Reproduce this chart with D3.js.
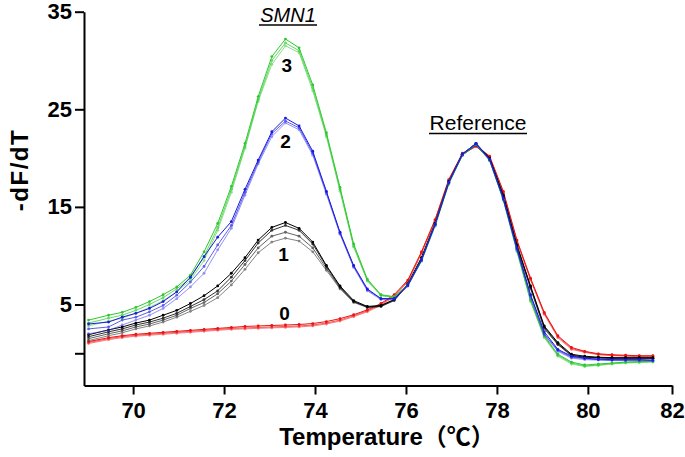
<!DOCTYPE html>
<html>
<head>
<meta charset="utf-8">
<script src="https://cdn.jsdelivr.net/npm/d3@7/dist/d3.min.js"></script>
<style>
  body { margin: 0; background: #fff; }
  svg { display: block; }
  text { font-family: "Liberation Sans", Arial, "Noto Sans CJK SC", sans-serif; }
</style>
</head>
<body>
<svg id="chart" width="685" height="457"></svg>
<script>
// temperature steps (°C) of the melt curve
const temps = [69.02, 69.46, 69.76, 70.06, 70.36, 70.66, 70.96, 71.26, 71.56, 71.86,
  72.16, 72.46, 72.75, 73.05, 73.35, 73.65, 73.95, 74.25, 74.55, 74.85,
  75.15, 75.45, 75.74, 76.04, 76.34, 76.64, 76.94, 77.24, 77.54, 77.84,
  78.14, 78.44, 78.74, 79.04, 79.34, 79.64, 79.93, 80.23, 80.53, 80.83,
  81.13, 81.43];

// SMN1 copy number 3 (green)
const green1 = [3.4, 3.9, 4.2, 4.7, 5.3, 6.0, 6.8, 8.0, 10.4, 13.3, 17.1, 21.5, 26.3, 30.4, 32.2, 31.3, 27.5, 22.6, 17.0, 11.2,
  7.6, 6.0, 5.8, 7.0, 9.6, 13.2, 17.5, 20.4, 21.5, 19.8, 15.8, 10.6, 5.5, 1.8, -0.1, -0.9, -1.2, -1.1, -1.0, -0.9, -0.85, -0.8];
const green2 = [3.1, 3.6, 3.9, 4.4, 5.0, 5.7, 6.6, 7.7, 9.9, 12.9, 16.8, 21.2, 26.0, 30.0, 31.8, 31.0, 27.2, 22.4, 16.8, 11.0,
  7.5, 5.95, 5.75, 7.0, 9.5, 13.1, 17.4, 20.3, 21.4, 19.8, 15.7, 10.5, 5.4, 1.7, -0.2, -1.0, -1.3, -1.2, -1.05, -0.95, -0.9, -0.85];
const green3 = [2.8, 3.3, 3.6, 4.1, 4.7, 5.4, 6.3, 7.5, 9.5, 12.6, 16.5, 21.0, 25.8, 29.6, 31.5, 30.8, 26.9, 22.2, 16.6, 10.9,
  7.4, 5.9, 5.7, 6.9, 9.4, 13.0, 17.3, 20.3, 21.4, 19.7, 15.7, 10.4, 5.3, 1.6, -0.3, -1.1, -1.35, -1.25, -1.1, -1.0, -0.95, -0.9];

// SMN1 copy number 2 (blue)
const blue1 = [3.0, 3.2, 3.7, 4.1, 4.6, 5.3, 6.3, 7.8, 9.9, 11.9, 13.5, 16.8, 19.8, 22.7, 24.1, 23.3, 20.7, 16.6, 12.4, 9.0,
  6.6, 5.6, 5.6, 7.0, 9.6, 13.2, 17.5, 20.4, 21.5, 19.9, 15.9, 10.8, 6.0, 2.2, 0.4, -0.3, -0.5, -0.6, -0.65, -0.65, -0.65, -0.7];
const blue2 = [2.5, 2.7, 3.4, 3.7, 4.25, 4.9, 5.95, 7.3, 8.9, 11.1, 13.1, 16.5, 19.6, 22.5, 23.8, 23.1, 20.5, 16.5, 12.3, 8.9,
  6.5, 5.6, 5.6, 6.9, 9.5, 13.2, 17.5, 20.4, 21.5, 19.8, 15.8, 10.7, 5.9, 2.0, 0.3, -0.4, -0.55, -0.65, -0.7, -0.7, -0.7, -0.75];
const blue3 = [2.0, 2.35, 2.9, 3.4, 3.9, 4.6, 5.6, 6.8, 8.2, 10.6, 12.8, 16.2, 19.4, 22.2, 23.6, 22.9, 20.3, 16.3, 12.2, 8.8,
  6.4, 5.5, 5.5, 6.9, 9.5, 13.1, 17.4, 20.3, 21.4, 19.8, 15.8, 10.6, 5.7, 1.9, 0.2, -0.5, -0.65, -0.7, -0.75, -0.75, -0.75, -0.8];

// SMN1 copy number 1 (black)
const black1 = [1.9, 2.4, 2.7, 3.1, 3.4, 3.9, 4.4, 5.1, 5.9, 6.9, 8.2, 9.8, 11.6, 12.9, 13.4, 12.8, 11.4, 9.0, 6.9, 5.4,
  4.8, 4.9, 5.5, 7.1, 9.8, 13.3, 17.6, 20.4, 21.5, 20.0, 16.2, 11.1, 6.9, 2.8, 1.1, -0.1, -0.3, -0.4, -0.45, -0.45, -0.45, -0.45];
const black2 = [1.7, 2.2, 2.5, 2.9, 3.2, 3.6, 4.1, 4.8, 5.5, 6.4, 7.8, 9.5, 11.3, 12.6, 13.1, 12.6, 11.2, 8.9, 6.8, 5.3,
  4.75, 4.85, 5.5, 7.1, 9.7, 13.3, 17.5, 20.4, 21.4, 19.9, 16.1, 11.0, 6.8, 2.7, 1.0, -0.2, -0.4, -0.45, -0.5, -0.5, -0.5, -0.5];
const black3 = [1.5, 2.0, 2.3, 2.7, 3.0, 3.4, 3.9, 4.6, 5.2, 6.1, 7.4, 9.1, 10.8, 12.0, 12.4, 12.0, 10.8, 8.7, 6.7, 5.3,
  4.7, 4.8, 5.4, 7.0, 9.7, 13.2, 17.5, 20.3, 21.4, 19.9, 16.0, 10.9, 6.7, 2.6, 0.9, -0.2, -0.4, -0.45, -0.5, -0.5, -0.5, -0.5];
const black4 = [1.3, 1.8, 2.1, 2.5, 2.8, 3.2, 3.7, 4.3, 4.9, 5.7, 7.0, 8.6, 10.3, 11.4, 11.8, 11.5, 10.4, 8.5, 6.6, 5.2,
  4.7, 4.8, 5.4, 7.0, 9.6, 13.2, 17.4, 20.3, 21.3, 19.8, 16.0, 10.9, 6.6, 2.5, 0.9, -0.3, -0.45, -0.5, -0.55, -0.55, -0.55, -0.55];

// SMN1 copy number 0 (red)
const red1 = [1.2, 1.6, 1.8, 1.95, 2.05, 2.15, 2.25, 2.35, 2.45, 2.55, 2.65, 2.75, 2.8, 2.85, 2.9, 2.95, 3.05, 3.25, 3.55, 3.95,
  4.45, 5.1, 6.0, 7.5, 10.4, 13.7, 17.8, 20.5, 21.3, 20.2, 16.6, 11.6, 7.7, 4.2, 1.8, 0.6, 0.2, -0.05, -0.15, -0.2, -0.25, -0.25];
const red2 = [1.1, 1.5, 1.7, 1.85, 1.95, 2.05, 2.15, 2.25, 2.35, 2.45, 2.55, 2.6, 2.65, 2.7, 2.75, 2.8, 2.9, 3.1, 3.4, 3.85,
  4.35, 5.0, 5.9, 7.4, 10.3, 13.6, 17.7, 20.4, 21.2, 20.1, 16.5, 11.5, 7.6, 4.1, 1.7, 0.5, 0.15, -0.1, -0.2, -0.25, -0.3, -0.3];
const red3 = [1.0, 1.4, 1.6, 1.75, 1.85, 1.95, 2.05, 2.15, 2.25, 2.35, 2.45, 2.5, 2.55, 2.6, 2.65, 2.7, 2.8, 3.0, 3.3, 3.75,
  4.25, 4.9, 5.8, 7.3, 10.2, 13.5, 17.6, 20.4, 21.2, 20.0, 16.4, 11.4, 7.5, 4.0, 1.6, 0.4, 0.1, -0.15, -0.25, -0.3, -0.35, -0.35];

const xTicks = [70, 72, 74, 76, 78, 80, 81.85];
const xTickLabels = ["70", "72", "74", "76", "78", "80", "82"];
const yTicks = [35, 25, 15, 5, 0];
const yTickLabels = ["35", "25", "15", "5", ""];

const copyLabels = ["3", "2", "1", "0"];

const series = [
  { values: red3, color: "#f03030", opacity: 0.6 },
  { values: red2, color: "#f02020", opacity: 0.75 },
  { values: red1, color: "#ee1111", opacity: 1 },
  { values: black4, color: "#333", opacity: 0.6 },
  { values: black3, color: "#222", opacity: 0.7 },
  { values: black2, color: "#111", opacity: 0.85 },
  { values: black1, color: "#000", opacity: 1 },
  { values: green3, color: "#3ccc3c", opacity: 0.6 },
  { values: green2, color: "#33cc33", opacity: 0.75 },
  { values: green1, color: "#2fc82f", opacity: 1 },
  { values: blue3, color: "#3a3af0", opacity: 0.55 },
  { values: blue2, color: "#2a2ae8", opacity: 0.75 },
  { values: blue1, color: "#1a1ae0", opacity: 1 }
];

const svg = d3.select('#chart');

const x = d3.scaleLinear().domain([68.92, 81.85]).range([84, 672]);
const y = d3.scaleLinear().domain([-3.3, 35]).range([385.5, 11.7]);

// curves
const line = d3.line()
  .x((d, i) => x(temps[i]))
  .y(d => y(d));

series.forEach(s => {
  const g = svg.append('g').attr('opacity', s.opacity);
  g.append('path')
    .datum(s.values)
    .attr('d', line)
    .attr('fill', 'none')
    .attr('stroke', s.color)
    .attr('stroke-width', 1);
  g.selectAll('circle')
    .data(s.values)
    .enter()
    .append('circle')
    .attr('cx', (d, i) => x(temps[i]))
    .attr('cy', d => y(d))
    .attr('r', 1.4)
    .attr('fill', s.color);
});

// axes
const xAxis = svg.append('g')
  .attr('transform', 'translate(0,385.5)')
  .call(d3.axisBottom(x)
    .tickValues(xTicks)
    .tickFormat((d, i) => xTickLabels[i])
    .tickSize(9)
    .tickSizeOuter(0)
    .tickPadding(8));

const yAxis = svg.append('g')
  .attr('transform', 'translate(84,0)')
  .call(d3.axisLeft(y)
    .tickValues(yTicks)
    .tickFormat((d, i) => yTickLabels[i])
    .tickSize(9)
    .tickSizeOuter(0)
    .tickPadding(3));

[xAxis, yAxis].forEach(a => {
  a.select('.domain').attr('stroke', '#000').attr('stroke-width', 2);
  a.selectAll('.tick line').attr('stroke', '#000').attr('stroke-width', 2);
  a.selectAll('.tick text')
    .attr('fill', '#000')
    .style('font-family', '"Liberation Sans", Arial, sans-serif')
    .style('font-weight', 'bold')
    .style('font-size', '22px');
});

// axis titles
svg.append('text')
  .attr('x', 387)
  .attr('y', 445)
  .attr('text-anchor', 'middle')
  .style('font-weight', 'bold')
  .style('font-size', '24px')
  .text('Temperature（℃）');

svg.append('text')
  .attr('transform', 'translate(28,170) rotate(-90)')
  .attr('text-anchor', 'middle')
  .style('font-weight', 'bold')
  .style('font-size', '24px')
  .style('letter-spacing', '1.5px')
  .text('-dF/dT');

// group labels
svg.append('text')
  .attr('x', 288)
  .attr('y', 22)
  .attr('text-anchor', 'middle')
  .style('font-style', 'italic')
  .style('font-size', '20px')
  .text('SMN1');
svg.append('line')
  .attr('x1', 259).attr('x2', 317)
  .attr('y1', 25).attr('y2', 25)
  .attr('stroke', '#000').attr('stroke-width', 1.5);

svg.append('text')
  .attr('x', 478)
  .attr('y', 130)
  .attr('text-anchor', 'middle')
  .style('font-size', '21px')
  .text('Reference');
svg.append('line')
  .attr('x1', 429).attr('x2', 527)
  .attr('y1', 133.5).attr('y2', 133.5)
  .attr('stroke', '#000').attr('stroke-width', 1.5);

// copy number labels, placed under each SMN1 peak
const copyAt = [[73.38, 28.85], [73.35, 21.0], [73.31, 9.44], [73.33, 3.46]];
svg.selectAll('.copy')
  .data(copyLabels)
  .enter()
  .append('text')
  .attr('class', 'copy')
  .attr('x', (d, i) => x(copyAt[i][0]))
  .attr('y', (d, i) => y(copyAt[i][1]))
  .attr('text-anchor', 'middle')
  .style('font-weight', 'bold')
  .style('font-size', '19px')
  .text(d => d);
</script>
</body>
</html>
